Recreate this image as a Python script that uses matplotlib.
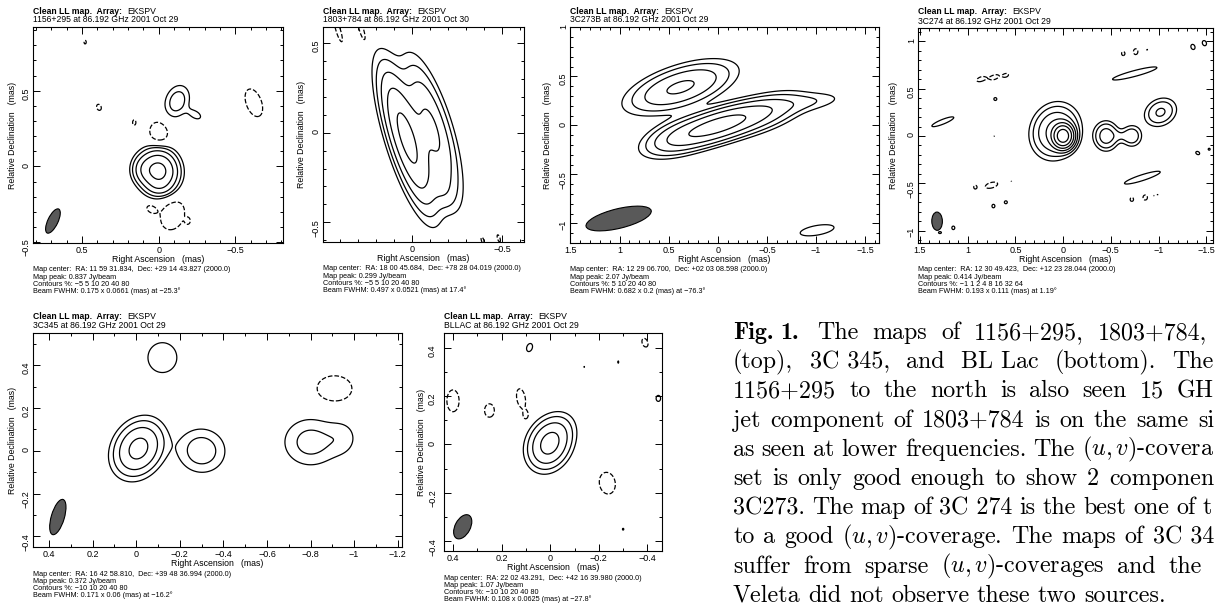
import numpy as np
import matplotlib
matplotlib.use('Agg')
import matplotlib.pyplot as plt
from matplotlib.patches import Ellipse
from matplotlib.ticker import MultipleLocator, FuncFormatter

W, H, DPI = 1215, 607, 100
SANS = ['Liberation Sans', 'DejaVu Sans']
plt.rcParams['mathtext.fontset'] = 'cm'

# components of each map: (ra, dec, amplitude, fwhm_major, fwhm_minor, pa)
P1_COMPS = [
    (0.0, -0.03, 1.0, 0.18, 0.16, 10), (0.10, -0.02, 0.18, 0.13, 0.11, 0),
    (0.0, -0.14, 0.08, 0.12, 0.08, 90),
    (-0.12, 0.43, 0.15, 0.17, 0.12, -20), (-0.24, 0.34, 0.07, 0.10, 0.06, 60),
    (0.48, 0.82, -0.07, 0.035, 0.02, 0), (0.39, 0.39, -0.08, 0.05, 0.035, 20),
    (0.16, 0.29, -0.07, 0.05, 0.03, 0), (0.0, 0.22, -0.10, 0.15, 0.12, 10),
    (-0.62, 0.42, -0.10, 0.19, 0.10, 20), (-0.09, -0.32, -0.10, 0.20, 0.15, -20),
    (0.05, -0.28, -0.08, 0.07, 0.05, 60), (-0.19, -0.36, -0.07, 0.04, 0.03, 0),
]
P2_COMPS = [
    (0.03, -0.03, 1.0, 0.50, 0.12, 17), (-0.11, 0.02, 0.45, 0.50, 0.13, 17),
    (-0.16, -0.30, 0.12, 0.20, 0.10, 17),
    (0.41, 0.57, -0.10, 0.13, 0.025, 17), (0.28, 0.57, -0.10, 0.12, 0.025, 17),
    (-0.39, -0.60, -0.07, 0.05, 0.02, 17), (-0.48, -0.59, -0.07, 0.06, 0.02, 17),
]
P3_COMPS = [
    (0.0, 0.0, 1.0, 0.65, 0.20, -72), (0.40, -0.12, 0.30, 0.50, 0.22, -72),
    (-0.45, 0.12, 0.30, 0.60, 0.22, -72), (-0.95, 0.24, 0.08, 0.55, 0.14, -82),
    (0.38, 0.39, 0.45, 0.70, 0.26, -72), (-1.01, -1.07, 0.07, 0.50, 0.14, -80),
]
P4_COMPS = [
    (0.0, 0.0, 1.0, 0.15, 0.13, 0), (0.08, 0.05, 0.10, 0.35, 0.30, -20),
    (-0.45, 0.0, 0.06, 0.20, 0.17, 0), (-0.72, 0.0, 0.035, 0.16, 0.15, 0),
    (-0.59, 0.0, 0.012, 0.15, 0.10, 90),
    (-1.02, 0.25, 0.045, 0.24, 0.19, -60),
    (1.26, 0.15, 0.016, 0.30, 0.06, -68), (-0.75, 0.66, 0.017, 0.55, 0.07, -75),
    (-0.83, -0.44, 0.017, 0.45, 0.07, -72),
    (0.71, 0.39, 0.013, 0.05, 0.05, 0), (0.73, -0.74, 0.013, 0.06, 0.05, 0),
    (0.60, -0.70, 0.013, 0.05, 0.05, 0), (1.15, -0.97, 0.013, 0.06, 0.05, 0),
    (1.29, -1.02, 0.012, 0.06, 0.04, 90), (-1.36, 0.94, 0.014, 0.08, 0.06, 20),
    (-1.48, 0.98, 0.014, 0.08, 0.06, 20), (-1.41, -0.18, 0.013, 0.07, 0.05, 60),
    (-1.53, -0.14, 0.012, 0.04, 0.04, 0),
    (0.72, 0.0, 0.0105, 0.02, 0.02, 0), (-1.45, 0.06, 0.0105, 0.02, 0.02, 0),
    (0.52, -0.48, 0.0105, 0.02, 0.02, 0), (-0.95, -0.63, 0.0105, 0.02, 0.02, 0),
    (0.86, 0.60, -0.015, 0.12, 0.06, -70), (0.72, 0.62, -0.015, 0.12, 0.06, -70),
    (0.60, 0.64, -0.014, 0.08, 0.05, -70),
    (0.92, -0.54, -0.013, 0.06, 0.05, 0), (0.75, -0.52, -0.016, 0.16, 0.07, -75),
    (0.54, -0.48, -0.011, 0.02, 0.02, 0),
    (-0.63, 0.87, -0.014, 0.06, 0.05, 0), (-0.76, 0.89, -0.015, 0.08, 0.06, 0),
    (-0.88, 0.91, -0.011, 0.03, 0.02, 0),
    (-0.72, -0.67, -0.014, 0.06, 0.05, 0), (-0.86, -0.65, -0.015, 0.07, 0.06, 0),
    (-0.99, -0.62, -0.011, 0.02, 0.02, 0),
]
P5_COMPS = [
    (-0.01, 0.01, 1.0, 0.18, 0.14, -30), (-0.30, 0.0, 0.30, 0.17, 0.16, 80),
    (-0.80, 0.04, 0.26, 0.20, 0.18, 90), (-0.95, 0.06, 0.12, 0.14, 0.12, 0),
    (-0.12, 0.435, 0.14, 0.20, 0.19, 0), (-0.91, 0.29, -0.20, 0.16, 0.12, 90),
]
P6_COMPS = [
    (0.005, 0.0, 1.0, 0.14, 0.11, -25), (-0.04, 0.06, 0.15, 0.12, 0.10, -30),
    (0.40, 0.18, -0.20, 0.09, 0.05, 0), (0.25, 0.14, -0.20, 0.055, 0.04, 0),
    (0.12, 0.19, -0.20, 0.08, 0.035, 10), (0.10, 0.12, -0.15, 0.04, 0.025, 0),
    (-0.235, -0.16, -0.20, 0.09, 0.065, 10), (-0.39, 0.42, -0.18, 0.04, 0.025, 20),
    (0.085, 0.40, 0.15, 0.045, 0.03, -20), (-0.445, 0.19, 0.13, 0.04, 0.03, 0),
    (-0.14, 0.32, 0.105, 0.015, 0.01, 0), (-0.28, 0.34, 0.11, 0.025, 0.01, 0),
    (-0.30, -0.35, 0.11, 0.02, 0.015, 0),
]

# contour levels in % of peak
P1_LEVELS = [-5, 5, 10, 20, 40, 80]
P2_LEVELS = [-5, 5, 10, 20, 40, 80]
P3_LEVELS = [5, 10, 20, 40, 80]
P4_LEVELS = [-1, 1, 2, 4, 8, 16, 32, 64]
P5_LEVELS = [-10, 10, 20, 40, 80]
P6_LEVELS = [-10, 10, 20, 40, 80]

# restoring beams: (ra, dec, fwhm_major, fwhm_minor, pa)
P1_BEAM = (0.69, -0.36, 0.175, 0.0661, -25.3)
P2_BEAM = None
P3_BEAM = (1.01, -0.95, 0.682, 0.2, -76.3)
P4_BEAM = (1.32, -0.90, 0.193, 0.111, 1.19)
P5_BEAM = (0.36, -0.31, 0.171, 0.06, -16.2)
P6_BEAM = (0.36, -0.34, 0.108, 0.0625, -27.8)

P1_TITLE = '1156+295 at 86.192 GHz 2001 Oct 29'
P2_TITLE = '1803+784 at 86.192 GHz 2001 Oct 30'
P3_TITLE = '3C273B at 86.192 GHz 2001 Oct 29'
P4_TITLE = '3C274 at 86.192 GHz 2001 Oct 29'
P5_TITLE = '3C345 at 86.192 GHz 2001 Oct 29'
P6_TITLE = 'BLLAC at 86.192 GHz 2001 Oct 29'

P1_FOOT = ['Map center:  RA: 11 59 31.834,  Dec: +29 14 43.827 (2000.0)',
           'Map peak: 0.837 Jy/beam', 'Contours %: \u22125 5 10 20 40 80',
           'Beam FWHM: 0.175 x 0.0661 (mas) at \u221225.3\u00b0']
P2_FOOT = ['Map center:  RA: 18 00 45.684,  Dec: +78 28 04.019 (2000.0)',
           'Map peak: 0.299 Jy/beam', 'Contours %: \u22125 5 10 20 40 80',
           'Beam FWHM: 0.497 x 0.0521 (mas) at 17.4\u00b0']
P3_FOOT = ['Map center:  RA: 12 29 06.700,  Dec: +02 03 08.598 (2000.0)',
           'Map peak: 2.07 Jy/beam', 'Contours %: 5 10 20 40 80',
           'Beam FWHM: 0.682 x 0.2 (mas) at \u221276.3\u00b0']
P4_FOOT = ['Map center:  RA: 12 30 49.423,  Dec: +12 23 28.044 (2000.0)',
           'Map peak: 0.414 Jy/beam', 'Contours %: \u22121 1 2 4 8 16 32 64',
           'Beam FWHM: 0.193 x 0.111 (mas) at 1.19\u00b0']
P5_FOOT = ['Map center:  RA: 16 42 58.810,  Dec: +39 48 36.994 (2000.0)',
           'Map peak: 0.372 Jy/beam', 'Contours %: \u221210 10 20 40 80',
           'Beam FWHM: 0.171 x 0.06 (mas) at \u221216.2\u00b0']
P6_FOOT = ['Map center:  RA: 22 02 43.291,  Dec: +42 16 39.980 (2000.0)',
           'Map peak: 1.07 Jy/beam', 'Contours %: \u221210 10 20 40 80',
           'Beam FWHM: 0.108 x 0.0625 (mas) at \u221227.8\u00b0']

# caption as far as it is visible (the page is cut at the right edge)
CAPTION_LINES = [
    'The|maps|of|1156+295,|1803+784,',
    '(top),|3C 345,|and|BL Lac|(bottom).|The',
    '1156+295|to|the|north|is|also|seen|15|GH',
    'jet|component|of|1803+784|is|on|the|same|si',
    'as|seen|at|lower|frequencies.|The|$(u,v)$-covera',
    'set|is|only|good|enough|to|show|2|componen',
    '3C273.|The|map|of|3C 274|is|the|best|one|of|t',
    'to|a|good|$(u,v)$-coverage.|The|maps|of|3C 34',
    'suffer|from|sparse|$(u,v)$-coverages|and|the',
    'Veleta|did|not|observe|these|two|sources.',
]
# right end of each justified line (px); None = natural spacing
CAPTION_RIGHT = [1207, 1214, 1214, 1214, 1214, 1214, 1212, 1214, 1202, None]

fig = plt.figure(figsize=(W / DPI, H / DPI), dpi=DPI)
fig.patch.set_facecolor('white')


def ptext(x, y, s, **kw):
    return fig.text(x / W, 1 - y / H, s, **kw)


def tick_fmt(v, pos):
    if abs(v) < 1e-9:
        return '0'
    return ('%g' % round(v, 4)).replace('-', '\u2212')


def make_map(comps, xlim, ylim, n=500):
    x = np.linspace(min(xlim), max(xlim), n)
    y = np.linspace(min(ylim), max(ylim), n)
    X, Y = np.meshgrid(x, y)
    Z = np.zeros_like(X)
    for ra, dec, amp, bmaj, bmin, pa in comps:
        t = np.radians(pa)
        dx, dy = X - ra, Y - dec
        u = dx * np.sin(t) + dy * np.cos(t)
        v = dx * np.cos(t) - dy * np.sin(t)
        Z += amp * np.exp(-4 * np.log(2) * ((u / bmaj) ** 2 + (v / bmin) ** 2))
    return X, Y, Z


def draw_panel(box, xlim, ylim, major, comps, levels, beam, title, foot,
               ylab_x, ytick_pad=1.5):
    l, t, r, b = box
    ax = fig.add_axes([l / W, 1 - b / H, (r - l) / W, (b - t) / H])
    X, Y, Z = make_map(comps, xlim, ylim)
    ax.contour(X, Y, Z, levels=np.array(levels) / 100.0, colors='k',
               linewidths=0.9)
    if beam is not None:
        bx, by, bmaj, bmin, bpa = beam
        ax.add_patch(Ellipse((bx, by), bmin, bmaj, angle=-bpa,
                             facecolor='#595959', edgecolor='k', lw=0.8))
    ax.set_xlim(xlim)
    ax.set_ylim(ylim)
    for axis in (ax.xaxis, ax.yaxis):
        axis.set_major_locator(MultipleLocator(major))
        axis.set_minor_locator(MultipleLocator(0.1))
        axis.set_major_formatter(FuncFormatter(tick_fmt))
    ax.tick_params(which='both', direction='in', top=True, right=True,
                   labelsize=6.5, width=0.7)
    ax.tick_params(which='major', length=5)
    ax.tick_params(which='minor', length=2.5)
    ax.tick_params(axis='x', pad=2.5)
    ax.tick_params(axis='y', pad=ytick_pad, labelrotation=90)
    for lab in ax.get_yticklabels() + ax.get_xticklabels():
        lab.set_family(SANS)
    for s in ax.spines.values():
        s.set_linewidth(0.8)

    rend = fig.canvas.get_renderer()
    head = ptext(l, t - 16, 'Clean LL map.  Array:', fontsize=6.2,
                 fontweight='bold', family=SANS, va='center')
    hw = head.get_window_extent(renderer=rend).width
    ptext(l + hw + 5, t - 16, 'EKSPV', fontsize=6.2, family=SANS, va='center')
    ptext(l, t - 7, title, fontsize=6.2, family=SANS, va='center')
    ptext((l + r) / 2, b + 16, 'Right Ascension   (mas)', fontsize=6.3,
          family=SANS, ha='center', va='center')
    ptext(ylab_x, (t + b) / 2, 'Relative Declination   (mas)', fontsize=6.3,
          family=SANS, ha='center', va='center', rotation=90)
    for i, line in enumerate(foot):
        ptext(l, b + 27 + 7.2 * i, line, fontsize=5.25, family=SANS,
              va='center')
    return ax


draw_panel((33, 27, 283, 243), (0.82, -0.81), (-0.505, 0.92), 0.5,
           P1_COMPS, P1_LEVELS, P1_BEAM, P1_TITLE, P1_FOOT, 13)
draw_panel((323, 27, 524, 242), (0.495, -0.62), (-0.61, 0.59), 0.5,
           P2_COMPS, P2_LEVELS, P2_BEAM, P2_TITLE, P2_FOOT, 301)
draw_panel((570, 27, 879, 243), (1.505, -1.64), (-1.2, 1.005), 0.5,
           P3_COMPS, P3_LEVELS, P3_BEAM, P3_TITLE, P3_FOOT, 547)
draw_panel((918, 28, 1213, 243), (1.52, -1.57), (-1.13, 1.14), 0.5,
           P4_COMPS, P4_LEVELS, P4_BEAM, P4_TITLE, P4_FOOT, 893)
draw_panel((33, 333, 402, 547), (0.474, -1.22), (-0.45, 0.55), 0.2,
           P5_COMPS, P5_LEVELS, P5_BEAM, P5_TITLE, P5_FOOT, 13)
draw_panel((444, 333, 662, 551), (0.437, -0.46), (-0.44, 0.46), 0.2,
           P6_COMPS, P6_LEVELS, P6_BEAM, P6_TITLE, P6_FOOT, 422,
           ytick_pad=5)

# caption, set word by word to imitate the justified lines
rend = fig.canvas.get_renderer()
CAP_FS = 17.3
for i, line in enumerate(CAPTION_LINES):
    y = 339 + 29.2 * i
    items = []
    if i == 0:
        items += [(w, 'cmb10') for w in ['Fig.', '1.']]
    items += [(w, 'cmr10') for w in line.split('|')]
    texts = [ptext(0, y, w, fontsize=CAP_FS, family=f, va='baseline')
             for w, f in items]
    widths = [tx.get_window_extent(renderer=rend).width for tx in texts]
    gaps = [7.5] * (len(texts) - 1)
    if i == 0:
        gaps[0] = 7
        gaps[1] = 12
    if CAPTION_RIGHT[i] is not None:
        free = CAPTION_RIGHT[i] - 733 - sum(widths)
        if i == 0:
            g = (free - gaps[0] - 4) / (len(gaps) - 1)
            gaps = [gaps[0]] + [g] * (len(gaps) - 1)
            gaps[1] += 4
        else:
            gaps = [free / len(gaps)] * len(gaps)
    x = 733
    for k, tx in enumerate(texts):
        tx.set_x(x / W)
        if k < len(gaps):
            x += widths[k] + gaps[k]

fig.savefig('out.png', dpi=DPI, facecolor='white')
